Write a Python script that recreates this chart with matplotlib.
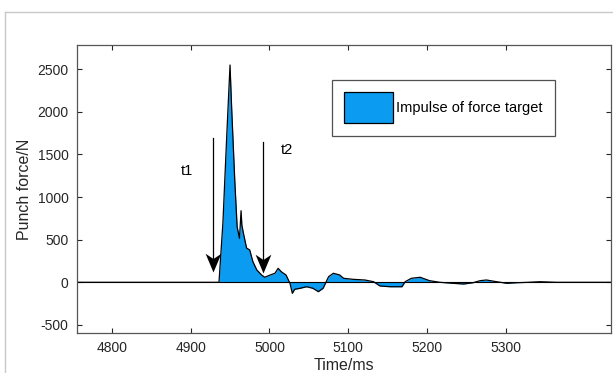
import matplotlib
matplotlib.use("Agg")
import matplotlib.pyplot as plt
from matplotlib.lines import Line2D
from matplotlib.path import Path

plt.rcParams["font.family"] = ["Liberation Sans", "DejaVu Sans"]
plt.rcParams["axes.unicode_minus"] = False

# punch force trace (ms, N)
time_ms = [4756, 4800, 4850, 4900, 4936, 4941, 4946, 4950, 4952, 4956, 4959,
           4962, 4964, 4965, 4967, 4971, 4975, 4979, 4984, 4990, 4994, 5001,
           5007, 5011, 5015, 5021, 5026, 5029, 5032, 5039, 5047, 5055, 5062,
           5068, 5075, 5081, 5089, 5094, 5106, 5121, 5132, 5140, 5153, 5168,
           5172, 5180, 5191, 5203, 5216, 5233, 5246, 5258, 5267, 5275, 5288,
           5301, 5313, 5326, 5343, 5364, 5400, 5433]
force_n = [0, 0, 0, 0, 0, 700, 1750, 2550, 2061, 1200, 653,
           516, 840, 672, 575, 402, 379, 242, 144, 86, 59, 86,
           106, 164, 124, 86, -12, -129, -82, -70, -52, -70, -110,
           -70, 66, 106, 86, 47, 35, 27, 7, -43, -52, -52,
           7, 47, 59, 19, 0, -12, -20, -5, 19, 27, 7,
           -12, -5, -1, 7, 0, 0, 0]

x_ticks = [4800, 4900, 5000, 5100, 5200, 5300]
y_ticks = [-500, 0, 500, 1000, 1500, 2000, 2500]

# marker arrows (t1, t2): x, top of shaft, tip, label x, label y
arrows = [("t1", 4929, 1690, 124, 4895, 1306),
          ("t2", 4992, 1650, 106, 5022, 1553)]

fill_color = "#0b9cf2"
ink = "#262626"

fig = plt.figure(figsize=(6.13, 3.73), dpi=100)
ax = fig.add_axes([77 / 613, 40 / 373, 534 / 613, 288 / 373])

ax.fill_between(time_ms, force_n, 0, color=fill_color, linewidth=0,
                label="Impulse of force target")
ax.plot(time_ms, force_n, color="black", lw=0.9)
ax.axhline(0, color="black", lw=0.8)

# notched arrow head pointing down
head = Path([(0, 0), (-0.42, 1.0), (0, 0.72), (0.42, 1.0), (0, 0)],
            [Path.MOVETO, Path.LINETO, Path.LINETO, Path.LINETO, Path.CLOSEPOLY])
for name, x, y0, y1, tx, ty in arrows:
    ax.plot([x, x], [y0, y1 + 60], color="black", lw=0.9)
    ax.plot(x, y1, marker=head, markersize=27, color="black",
            markeredgewidth=0)
    ax.text(tx, ty, name, fontsize=10.5, ha="center", va="center", color="black")

ax.set_xlim(4756, 5433)
ax.set_ylim(-595, 2785)
ax.set_xticks(x_ticks)
ax.set_yticks(y_ticks)
ax.tick_params(direction="in", length=3.5, width=0.8, top=True, right=True,
               labelsize=10, labelcolor=ink, color=ink, pad=6)
for sp in ax.spines.values():
    sp.set_color("#555555")
    sp.set_linewidth(0.9)

ax.set_xlabel("Time/ms", fontsize=11.5, color=ink, labelpad=2)
ax.set_ylabel("Punch force/N", fontsize=11.5, color=ink, labelpad=4)

leg = ax.legend(loc="upper left", bbox_to_anchor=(255 / 534, 1 - 35 / 288),
                fontsize=10.5, frameon=True, fancybox=False, handlelength=3.36,
                handleheight=2.9, handletextpad=0.2, borderpad=0.85,
                borderaxespad=0)
leg.get_frame().set_edgecolor(ink)
leg.get_frame().set_linewidth(0.9)
for h in leg.legend_handles:
    h.set_edgecolor("black")
    h.set_linewidth(0.9)

# thin grey border of the original screenshot
fig.add_artist(Line2D([5 / 613, 1], [1 - 12 / 373, 1 - 12 / 373],
                      color="#c8c8c8", lw=1, transform=fig.transFigure))
fig.add_artist(Line2D([5 / 613, 5 / 613], [0, 1 - 12 / 373],
                      color="#c8c8c8", lw=1, transform=fig.transFigure))

fig.savefig("out.png", dpi=100)
